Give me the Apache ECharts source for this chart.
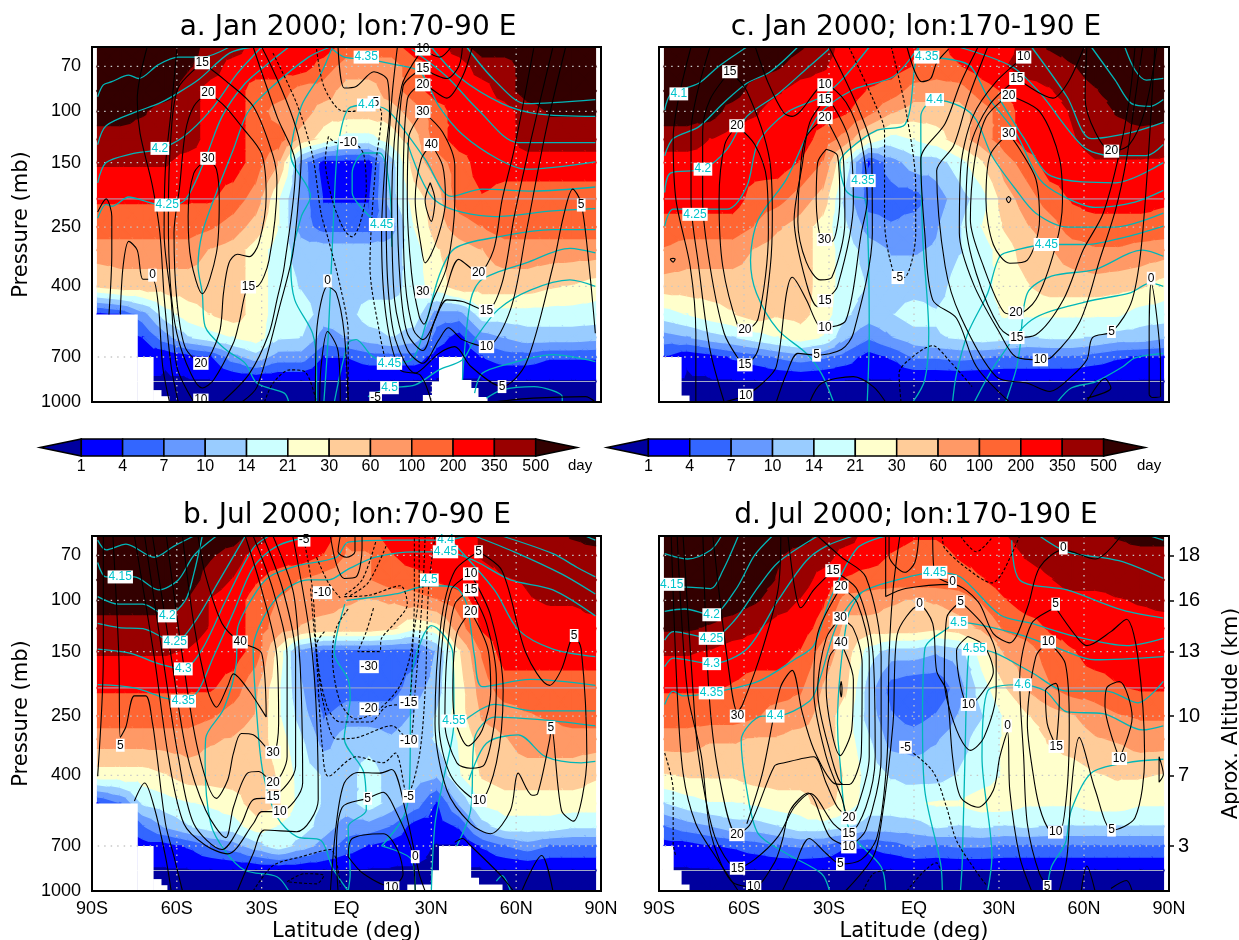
<!DOCTYPE html>
<html><head><meta charset="utf-8"><title>Residence time</title>
<style>html,body{margin:0;padding:0;background:#fff}#c{width:1239px;height:940px}</style>
<script src="https://cdn.jsdelivr.net/npm/echarts@6/dist/echarts.min.js"></script></head><body><div id="c"></div>
<script>
const lats=[-88,-80,-72,-64,-56,-48,-40,-32,-24,-16,-8,0,8,16,24,32,40,48,56,64,72,80,88];
const pressures=[60,70,85,100,125,150,200,250,300,400,500,600,700,850,1000];
const pressureTicks=[70,100,150,250,400,700,1000];
const altitudeTicks={70:18,100:16,150:13,250:10,400:7,700:3};
const latLabels={'-90':'90S','-60':'60S','-30':'30S','0':'EQ','30':'30N','60':'60N','90':'90N'};
const colorLevels=[1,4,7,10,14,21,30,60,100,200,350,500];
const bandColors=['#00009f','#0000ff','#3366ff','#6699ff','#99ccff','#ccffff','#ffffcc','#ffcc99','#ff9966','#ff6633','#ff0000','#990000','#330000'];
// residence-time class (index into bandColors), one row per pressure level, one value per latitude
const fillA=[
[12,12,12,12,12,11,11,10,10,10,10,9,9,9,10,10,11,12,12,12,12,12,12],
[12,12,12,12,11.6,11,10,10,10,10,9,8,8,8,9,10,10,11,11,12,12,12,12],
[12,12,12,12,11,10,10,9,9,8,8,7,7,8,9,10,10,10,11,12,12,12,12],
[12,12,11.6,11,11,10,10,9,8,8,7,7,7,7,8,9,10,10,10,11,11.6,11.6,11.6],
[11,11,11,11,11,10,10,9,9,7,6,5,5,6,7,9,10,10,10,11,11,11,11],
[10.6,10.6,10.6,10.6,10,10,10,9,7.5,3,1,1,1,4,7,8,9,10,10,10,10,10,10],
[9.6,9.6,9.6,9.6,9.6,9.6,9,8,5.5,3,1.4,1.4,1.4,4,6,7,9,9.4,9,9,9,9,9],
[9,9,9,9,9,8.6,8,7,5.5,3,2,2,2,3,5.5,7,8,8.5,9,9,9,9,9],
[8,8,8,8,8,7.4,7,6,5,4,4,4,4,4,5,6.4,7,7.5,8,8,8,8,8],
[6.6,7,7,7,7,7,7,6,5,4.4,4,4,4,4,5,6,7,7,7,7,6.6,6.4,6],
[1,1.5,3,5,6,6.5,7,6,5,5,4,4,5,5,5,3,3,5,5,5,5,5,5],
[1,1,1.5,3,4.4,5,5.5,6,4.6,4.5,3,3.5,4,4.5,4,2,1,3,3.5,4,4,4,3.8],
[0,0,1,0.6,1,1.5,3,4,3,3,1.5,1.5,2,2,2,1,0.6,1.5,2,2,1.6,1.6,1.6],
[.4,.4,.4,.4,.4,.4,.4,.4,.4,.4,.4,.4,.4,.4,.4,.4,.4,.4,.4,.4,.4,.4,.4],
[0,0,0,0,0,0,0,0,0,0,0,0,0,0,0,0,0,0,0,0,0,0,0]];
const fillB=[
[12,12,12,12,12,12,12,11,10,10,10,8.6,9,10,10,10,10,10.6,11,11,11,11.6,12],
[12,12,12,12,12,11.6,11,10,10,10,9.4,8.4,8.4,9.4,10,10,10,10.6,11,11,11,11,11],
[12,12,12,12,12,11,10.4,9.6,9,8.4,8,8,8.4,9,9,9.6,10,10,10.4,10.6,11,11,11],
[12,12,12,12,11.4,10.4,10,9,8.4,8,8,7.6,7.4,7.6,8,8.4,9,10,10,10.4,10.6,10.6,11],
[11,11,11,11,11,10.4,10,9,8,7.4,7,7,7,6.6,5.6,6,8,9.6,10,10,10,10,10],
[10.6,10.6,10.6,10.6,10.4,10,10,9,6,3,2,2,2,2,2,3.6,6.4,8.6,10,10,10,10,10],
[9.6,9.6,9.6,9.6,9.6,9.6,9,7.6,5.6,3.6,1.6,2,2,2,3,4,6,8,9,9,9,9,9],
[9,9,9,9,9,8.6,8,7.4,5.6,4,2.4,3,3,3,3.6,4.6,6,7.6,8,8.4,8.6,9,9],
[8,8,8,8,8,7.6,7.4,7,6,4.6,3,4,4,3.6,4,4.6,5.6,7,7.4,8,8,8,8],
[6,6,6,6.4,7,7,7,7,6.4,5,4.4,4,5,4,4,3.6,5.4,6.6,7,7,7,7,6.6],
[1.4,2.4,4.6,5,5.4,5.6,6,7,6.6,5,4.4,4,5,4,3,1.4,3.6,5.6,6,6,6,6,6],
[1,1,2.4,3.6,4.4,5,5,6,5.4,5,4,3,3,2.4,1,1,1.6,4,5,5,5,4.6,4.6],
[.6,.6,1,1,1.6,2.4,3,4,5,4,3,2,1.4,1,.8,.4,.4,1.6,2.4,3,2.4,2.4,2.4],
[.4,.4,.4,.4,.4,.4,.4,.4,.4,.4,.4,.4,.4,.4,.4,.4,.4,.4,.4,.4,.4,.4,.4],
[0,0,0,0,0,0,0,0,0,0,0,0,0,0,0,0,0,0,0,0,0,0,0]];
const fillC=[
[12,12,12,12,12,12,11.6,11,10,10,10,9.6,9,10,10,10,11,11.6,12,12,12,12,12],
[12,12,12,12,12,11.6,11,10.6,10,10,10,9.4,9,9.4,10,10.4,11,11,11.4,12,12,12,12],
[12,12,12,12,11,10.6,10,10,10,9.4,9,8,8,8,9,9.6,10,10.4,11,11.4,12,12,12],
[12,12,12,11,10.6,10,10,10,9.6,8.8,7.6,7,7,7,8,9,10,10,10.6,11,11.6,12,12],
[11,11,10.5,10,10,10,10,9,8,6,5,5.5,6,7,8,9,10,10,10.4,11,11,11,10.8],
[10,10,10,10,10,10,9.4,8.4,5,1.4,3,4,4,5,6.4,8,9,10,10,10.4,10.4,10.4,10.4],
[10,10,10,10,9,8.8,8,7,4,2,2,2,3,4,5,7,8,9,9.6,10,10,10,9.7],
[9,9,9,9,8.4,7.6,7,6,4.6,3,2.6,3,3.4,4.4,5.5,6.6,7.4,8,9,9,9,9,9],
[8.4,8,8,8,7.4,7,7,6,5,4,3.4,3.4,3.6,4.4,5,6,7,7.4,8,8.4,8.4,8.2,8],
[7,7,7,7,7,7,7,6,5,4.4,4,4,4,5,5,6,6.4,7,7,7,6.8,6.6,6],
[5,5.5,6,6.4,7,6.6,6.8,6,4.6,4,4.4,5,4.6,5,5,5.6,5.6,5.6,5.6,5.6,5.6,5,5],
[3,3.4,4,4.4,5,5.5,6,5.4,3.6,2.6,3.4,4,4.4,4.6,5,4.8,4.4,4.6,4.6,4.4,4,4,3.6],
[1.4,.6,1,1.6,2,2.6,3,2.6,2,1,1.6,2.6,2.6,2.8,2.6,2.4,2.4,2.4,2.4,2,1.6,1.4,1.4],
[.4,.4,.4,.4,.4,.4,.4,.4,.4,.4,.4,.4,.4,.4,.4,.4,.4,.4,.4,.4,.4,.4,.4],
[0,0,0,0,0,0,0,0,0,0,0,0,0,0,0,0,0,0,0,0,0,0,0]];
const fillD=[
[12,12,12,12,12,12,12,11,11,10,10,9.6,9.6,10,10,10.4,11,11,11,11,11.6,12,12],
[12,12,12,12,12,11.6,11,11,10,10,9.4,9,9,9.6,10,10,10.6,11,11,11,11,11,11],
[12,12,12,12,12,11.4,11,10,9.4,9,9,9,9,9,9.4,10,10,10.4,11,11,11,11,11],
[12,12,12,12,11.6,11,10.4,9.6,8,8,7.6,7.4,7.6,8,8.6,9.4,10,10,10,10,10.4,10.6,10.8],
[11.6,11.6,11.4,11,10.6,10,10,9,7,7,7,7,6.6,7,7.6,8.6,9,9.6,10,10,10,10,10],
[10.6,10.6,10.4,10,10,10,9.4,8,7,5,4,4,3.6,4,6,7.6,8,9,9.4,10,10,10,10],
[9.6,9.6,9.6,9.4,9,9,8.6,7.4,6.6,4,2,1.6,1.6,3,5,6.4,7.6,8.4,9,9,9.4,9.6,9.6],
[9,9,9,9,8.6,8,8,7,6,4,2.6,2,2.6,3.6,4.4,5.6,6.4,7,7.4,8,8.4,8.6,8.6],
[8,8,7.6,7.6,7.4,7.4,7,7,6,4.6,3,3,3.4,4,5,5.6,6,6.6,7,7.4,7.6,8,8],
[6.4,6.6,6.6,6.6,7,7,7,7,6.4,5,4.4,4,4,4.6,5,5.6,6,6,6,6.4,6.6,6.6,6.4],
[4.4,5,5.4,5.4,5.6,6,6,7,6,5,5,5.4,5.6,5.6,6,6,5.6,5.6,5.6,6,6,5.6,5.6],
[2.4,3,3.4,4,4,4.4,5,5,4.6,4,4,4,4.6,4.4,4.6,4.4,4.6,4.4,4.4,4.4,4.4,4.4,4.4],
[1,1,1.4,1.6,2,2.4,2.6,2.4,1.6,1.6,2,2.6,2.4,2.6,2.6,2.4,2.4,2.4,2.4,2.4,2.4,2.4,2.4],
[.4,.4,.4,.4,.4,.4,.4,.4,.4,.4,.4,.4,.4,.4,.4,.4,.4,.4,.4,.4,.4,.4,.4],
[0,0,0,0,0,0,0,0,0,0,0,0,0,0,0,0,0,0,0,0,0,0,0]];
// missing-data terrain: [lat from, lat to, surface pressure]
const topoA=[[-88.2,-74,500],[-74,-68.4,700],[-68.4,-65.6,910],[-65.6,-62.8,955],[27,30.2,946],[30.2,32.7,853],[32.7,40.8,700],[40.8,44,840],[44,46.5,895],[46.5,49.7,961]];
const topoB=[[-88.2,-74,500],[-74,-68.4,700],[-68.4,-65.6,910],[-65.6,-63.5,955],[21.5,30,950],[30,32.7,850],[32.7,43.9,700],[43.9,46.7,900],[46.7,55,950]];
const topoC=[[-88,-82.2,700],[-82.2,-79.4,950]];
const topoD=[[-88,-85,700],[-85,-82.2,850],[-82.2,-79.4,950]];
// black wind contours: [level, lat,p, lat,p, ...]; negative levels are dashed
const blackA=[
[0,-88,222,-85,200,-83,230,-83,307,-84,500],
[0,-80,500,-79,341,-77,280,-74,300,-72,378,-68.6,378,-66.5,469,-65,755,-62.6,1000],
[5,-70.5,60,-74,91,-73,119,-68.6,181,-66,262,-64.4,445,-62,755,-59.5,1000],
[10,-60,61,-62,99,-64,154,-64.5,262,-62,445,-60,755,-54,1000],
[10,-33,60,-24.6,104,-18,154,-22,341,-24.6,445,-27.4,580,-34.4,800,-44,1000],
[15,-51,68,-59.5,83,-62,118,-63,230,-62.3,390,-60,580,-55,800,-51,895,-47,840,-40,627,-38,535,-34.7,402,-31.6,400,-27.4,325,-24.6,175,-26,142,-33,96,-43,78,-51,68],
[20,-49,86,-54,96,-57,118,-59,181,-61,262,-60,445,-57,650,-51,736,-45,580,-43.5,422,-41.6,333,-38.6,310,-34.4,316,-31,284,-28.4,196,-30,140,-37,113,-43,96,-49,86],
[30,-49,145,-54,163,-56,230,-55,325,-51,424,-46,307,-45,202,-46,158,-49,145],
[5,-30,60,-16,142,-17,202,-19,309,-23,445,-31.6,885,-37,1000],
[-5,-26,63,-17.6,94,-12,142,-9,224,-6.4,276,-2.2,400,.6,580,.6,1000],
[-5,-10.6,61,-8,82,-2.2,99,2,100,9.7,94,12.4,101,10.3,154,8.3,341,11.7,580,14,736],
[-10,-6.4,122,-7.5,147,-5,202,-.8,256,2,270,4.8,242,7,185,6.2,142,4,131,.6,128,-3.6,128,-6.4,122],
[-5,-29,1000,-26,862,-20,775,-14.8,785,-10.6,1000],
[0,-11,1000,-10.6,580,-6.7,400,-3.6,422,-.8,580,.6,1000],
[5,-9.5,1000,-9,755,-6.7,572,-3,667,-2.2,1000],
[0,-3,60,-.8,83,3.4,82,9.7,73,14.5,78,15.2,101,14,135,12.4,262,14,507,19,775,26,807,30,1000],
[5,18,60,16,91,14,202,14.6,390,17.3,610,24.3,795,32.7,680,38.3,645,44,755,55,885,63.5,736,73,341,76.7,230,80,185,83,207,85.8,341,88,580],
[10,27,61,19.5,82,16,202,17,445,21.5,660,27,736,32.7,610,36,555,41,610,49.5,645,58,480,63.5,262,70.4,118,77.5,60],
[10,27,61,33,65,37,60],
[15,27,71,20,82,18,202,19,390,21.5,580,27,665,31.3,522,35.5,445,41,451,49.5,485,55,390,59.3,230,65,128,73,60],
[15,27,71,35.5,77,39.7,70,41,60],
[20,44.5,60,41,76,35.5,90,27,81,21.5,91,20,202,20.8,390,23.7,565,27,610,34,445,39.7,323,44.6,350,46.7,360,52,300,55,202,59.3,135,66.3,60],
[30,27,100,22,123,21.5,202,23,360,25.7,507,27.4,540,30.6,445,35.5,341,38.3,202,38.3,154,34,118,27,100],
[40,30,130,26.4,146,24.3,202,26.4,292,27.8,332,32,276,35,202,34,154,30,130],
[50,29.6,176,27.8,202,30,239,31.3,202,29.6,176],
[0,52,1000,66,970,84.5,958,88,1000]];
const blackB=[
[0,-86,60,-86,156,-88,403],
[5,-82.6,60,-80.5,156,-80,296,-78,272,-75,213,-71,213,-68.6,265,-67,345,-64,587,-61,762,-58,1000],
[0,-75,490,-71.4,425,-68,515,-64,762,-62,1000],
[10,-75,60,-68,156,-63,345,-57.5,587,-49.8,697,-42,745,-33,587,-30,533,-23.5,533,-15.5,425,-16,205,-17,137,-19,92,-26,60],
[15,-71.4,60,-65,156,-59.5,345,-54,587,-44,720,-37.2,587,-33,485,-26,475,-18,372,-18,156,-22.5,92,-29.5,60],
[20,-68.6,60,-62,156,-56.7,328,-49.8,527,-42.7,655,-40,515,-35,393,-31,388,-26,425,-21,345,-21,156,-26,92,-33,60],
[30,-63.7,60,-58,156,-52.5,328,-46,480,-42,415,-40,336,-37.2,287,-33,290,-26,336,-24,265,-24.6,156,-30,92,-35.8,60],
[40,-58,60,-54,120,-49,205,-46,233,-42,197,-40,179,-34.4,205,-28.4,252,-30,152,-37.6,139,-44,120,-50,81,-52.5,60],
[5,-38.6,1000,-33,743,-29,617,-17.6,625,-10,485,-12,156,-19,60],
[-5,-15,62,-12,92,-10.6,156,-8.5,325,-6.4,403,3.4,345,13,362,17.3,335,21.5,468,25.7,345,27.8,205,29,92,31.3,60],
[-10,-12.7,91,-10.6,154,-8,230,-3.6,300,4,296,16,270,22,305,24.3,202,27,91,27.8,60],
[-15,-7.8,128,-10.6,142,-7,230,-2.2,262,8.3,262,14,232,22,222,23.6,135,25.7,91,25.7,60],
[-20,.6,107,-3.6,124,-5,154,-2.2,224,3.4,256,10.3,242,18.7,198,23,146,24,91,24,60],
[-30,-.8,97,8,96,19,89,21.5,103,17.3,119,12.4,135,11.7,150,4,150,7,128,9.7,105],
[-5,-10.6,71,-6.4,87,-2.2,98],[-5,14,65,7.6,87,.6,97],[-5,10.3,63,5.5,85,-.8,96],
[5,-2.2,60,-3,68,0,71,3,68,3,60],
[0,-5.7,60,-3.6,75,-.8,84,3.4,83,5.5,66,5.5,60],
[5,46.7,68,38.3,79,33.4,120,31.3,265,35.5,450,43.9,587,51,635,58,527,60.7,393,65.6,468,67.6,462,71.8,303,72.5,274,76,527,80.2,575,85,345,83,147,80.5,132,76,173,71.8,196,63.5,152,55,79,46.7,68],
[10,43.9,81,37,92,33.4,156,32.7,265,37,403,47,490,53,362,55.4,205,51,113,43.9,81],
[15,43.9,92,38.3,103,35.5,156,34.8,265,39,362,43.9,378,48.8,367,52.3,265,53,187,49.5,120,43.9,92],
[20,43.9,109,39,130,37.6,205,38.3,256,43,317,48,279,51,205,50,147,43.9,109],
[0,-5.7,1000,-3.6,587,-.8,425,4,391,11.7,393,16,382,20.8,527,25.7,872,27.8,1000],
[5,-3,1000,-3.6,743,-1.5,515,7.5,480,13,457,17.3,527,23,720,24.3,1000],
[10,.6,762,2,660,13,635,18,720,20,872,16,965,6,872,.6,762],
[-5,-33,1000,-26,818,-16,762,-5.7,720,-2.2,965],
[-5,-21,930,-14.8,872,-8,885,-10.6,945,-21,930],
[0,62,1000,69,755,73,1000],
[0,38.3,680,41,660,44,700,54,872,59,1000]];
const blackC=[
[5,-78.7,60,-85,124,-84,202,-79,341,-77,580,-77,1000],
[10,-72,60,-78.7,118,-78.7,202,-76,341,-72,660,-67,1000],
[10,-67,1000,-59.4,948,-53.5,862,-48.6,755,-45,422,-43,372,-38,445,-34,540,-31.4,553,-24,522,-18.6,262,-16.5,202,-18.6,127,-24,93,-31.4,81,-43,104,-46,101,-51.4,80,-56,60],
[15,-65,73,-72,91,-74.6,118,-74.6,202,-72,341,-67,580,-62,710,-59.7,745,-55,660,-50.7,341,-50,230,-51,146,-59,85,-65,73],
[15,-31.4,91,-36.8,109,-39.5,154,-42.3,236,-38,390,-34,470,-31.4,448,-27,400,-21.4,205,-22.8,126,-28.4,96,-31.4,91],
[20,-62.5,112,-66.8,130,-68.8,202,-67.5,341,-62,555,-59.7,566,-55,515,-51.4,262,-52,171,-56.2,130,-62.5,112],
[20,-31.4,105,-38,122,-40,154,-41,239,-38,330,-33,380,-29,372,-24.4,239,-25,143,-29.8,111,-31.4,105],
[30,-31,135,-34,150,-34.5,202,-32.6,276,-29,280,-26.2,202,-27,142,-31,135],
[-5,-23,60,-14,93,-10.4,118,-10.4,236,-7,364,-3.5,373,.6,265,.6,181,-2.8,100,-8,60],
[5,-30,60,-20,96,-15,135,-14.7,262,-21.4,580,-25.6,660,-34.4,690,-41,680,-45,800,-48.6,1000],
[0,-36.8,1000,-32.6,862,-21.4,818,-14.4,885,-10,1000],
[-5,-4.6,1000,-5.3,797,-1.8,716,6.6,640,12.2,716,20.5,885],
[0,-2.5,60,.3,73,2.7,79,5.9,77,8,68,12.2,61],
[0,22.6,60,16.4,80,11,110,2.4,146,3.8,262,6.6,445,15,515,22,755,33.7,1000],
[5,26,60,19,91,14,131,8,160,11,341,16.4,507,29,818,40,862,48,920,55.5,818,61,716,63,600,70,572,77,445,80.7,262,85,60],
[10,38.7,65,29,79,20.8,104,16.5,156,16,262,21,393,30.3,580,36,700,44.6,716,48.6,700,58.6,527,65.7,320,71.2,217,75,146,78,91,80.7,60],
[15,36.5,77,26.6,95,19.7,134,18.3,236,22,362,30.3,555,36.3,600,43,587,52.7,445,59.7,300,66.7,225,72,146,76,91,78,60],
[15,36.5,77,49,90,54.5,79,60,60],
[20,33.4,88,25.4,105,21.3,150,19.9,236,24.7,345,31.7,490,36,500,43,445,50,290,52.4,205,51.4,146,44.3,100,33.4,88],
[30,33.4,119,26.8,142,25.4,202,28,287,33.8,333,40,325,44.3,236,43,171,37.3,135,33.4,119],
[20,61,60,60.4,90,64,118,69.7,137,76,130,81.4,100,85.7,60],
[0,33.4,196,34.2,200,33.4,206,32.6,200,33.4,196],
[0,83,945,83,580,83.7,390,87,755,87,958,84,965,83,945],
[5,61,1000,67.4,830,69.5,895,61,970],
[0,-85,320,-86,322,-85,330,-84.3,322,-85,320]];
const blackD=[
[-5,-88,335,-85,450,-85,685,-84,762],
[5,-85.7,60,-83.6,205,-81.5,393,-77,587,-70,762,-62,1000],
[15,-28.6,79,-35.4,92,-40,106,-42,92,-44.5,60],
[15,-28.6,79,-20,92,-14.4,156,-13.7,345,-17,515,-23,635,-28.4,587,-36.7,462,-42.3,515,-48,650,-56.3,780,-62.3,835,-70.3,650,-76,345,-78,205,-81.5,60],
[20,-25.8,90,-34,130,-35.4,205,-31,345,-25.6,475,-23,560,-20,515,-15.8,345,-15.8,156,-20,102,-25.8,90],
[20,-74.5,60,-72.4,205,-69,393,-62.5,640,-57.7,587,-49.3,372,-45.8,362,-35.4,345,-31,425,-27,515,-23,560],
[30,-26,115,-31,135,-34,205,-29.8,328,-25,430,-22.8,430,-18.6,335,-18.3,165,-21.4,125,-26,115],
[30,-71,60,-66,156,-62.3,242,-60.5,228,-53.5,147,-48,92,-47,60],
[30,-59,587,-53.5,393,-47.2,200,-43,174,-39.5,242,-35.4,325,-28.4,425,-25,430],
[40,-25.8,140,-29.8,156,-31,200,-26,342,-22,279,-21.4,187,-25.8,140],
[10,-23,705,-17,617,-11.6,345,-11.6,156,-17,83,-25.6,71,-34,60],
[10,-23,705,-29.8,650,-37.4,460,-43.7,527,-46.5,670,-49.3,800,-56.6,970,-64.7,920,-71.7,635,-75,345,-80,205,-83.6,60],
[5,-46.5,1000,-42.3,825,-37,660,-31,743,-26,807,-18.6,780,-13,650,-9.5,345,-8.8,156,-7.4,92,-5,60],
[5,-8.8,60,-8.8,70,-3.2,80,.3,74,1.7,60],
[0,-10,60,-10,97,-3,91,13.6,88,22.6,101,28,130,33.8,140,40,106,44.3,77,52.7,67,64,72,73,60],
[0,-24.2,1000,-14.4,762,-11.6,587,-7.4,265,-6,132,2,104,6.6,120,8,175,11.5,205,13.6,345,16.4,475,22.6,515,28,450,30.3,345,33,284,33.8,450,37.3,762,41.5,1000],
[5,16.4,101,11.5,115,10.7,187,15,279,20,328,24.7,296,29,205,29,156,25.4,125,16.4,101],
[10,19,133,15,149,16.4,196,19.2,228,22.6,217,28,176,24.7,143,19,133],
[0,6.6,60,7.3,81,13.6,88],
[-5,10,60,10.8,66,19,78,27.5,87,31,81,37.3,60],[-5,16.4,60,22,68,28,60],
[-5,-3,320,6.6,387,11.5,515,15,670,22,858,25.4,950],
[-5,-18,1000,-14.4,872,-10,850],[-5,-2.5,1000,8,800,9.4,850],
[10,47.4,139,43,156,40,265,42,393,44.3,515,47.8,617,51.3,627,54,450,54.8,265,53.4,165,47.4,139],
[15,50.2,318,47,265,46.4,205,50,193,51.3,217,50.2,318],
[5,50,106,41.5,120,37.3,187,38.7,345,40,587,44.3,872,48.5,1000],
[5,50,106,57,132,61,143,69.5,128,75,116,79,156,81.4,345,78,560,70,617,64,450,58.3,296,55.5,450,54,762,51.3,1000],
[10,72.5,350,67.4,230,68,200,72.5,190,77,253,72.5,350],
[5,59,1000,61,820,63.9,1000],[5,69.5,980,75,920,77,1000],[5,86.5,345,88,397,86.5,422,86.5,345],
[40,-25.7,190,-26.1,200,-25.7,215,-25.4,200,-25.7,190]];
// cyan contours: [lat,p, lat,p, ...]
const cyanA=[
[-88,89,-86,81,-83,79,-77,75,-73.5,77,-66.5,69,-59.5,65,-51,65,-41.4,60],
[-88,130,-85,112,-74,100,-66.5,94,-61,88,-52.5,78,-41.4,63,-33,60],
[-88,176,-85,150,-76,140,-66.5,135,-58,123,-48,99,-38.6,74,-30,60],
[-88,233,-85,209,-83,212,-77,197,-71,204,-64,212,-57,201,-50,146,-44,104,-35.8,80,-27.4,68,-20.4,60],
[-5,60,-9,74,-16,96,-19.7,142,-12.7,196,-16,230,-19.7,341,-18.3,445,-12,580,-10.6,755,-10.6,1000],
[-20.4,1000,-22,932,-31.6,862,-35.8,736,-42.7,660,-50,550,-51,422,-52.5,341,-51,262,-46,190,-40,135,-35,101,-27.4,84,-13.4,65,-5.7,60],
[-5,61,-.8,65,7,66,17.3,69,26,73,32.7,96,41,120,53.7,146,63.5,158,88,149],
[-8,1000,-6.4,580,-4.3,202,-3,132,.6,98,7.6,95,14.5,99,21.5,120,27.8,146,37,196,48,185,66,188,88,182],
[-4.3,1000,.6,627,3.4,610,9,695,15,736,23,716,27.8,550,32.7,369,38.3,296,53.7,270,73,255,88,255],
[11.7,248,4.8,212,2,190,2,163,6.2,139,11.7,139,15.2,181,16,292],
[21.5,128,31.3,202,52.3,230,73,220,88,216],
[42.5,60,52.3,78,63.5,94,88,91],[30,60,39.7,76,55,94,67.6,102,88,104],[23,61,35.5,76,46.7,99,60.7,128,88,128],
[41,840,43.9,445,48,378,63.5,332,79,296,88,307],
[7.6,958,15.2,895,24.3,873,32.7,775,41,716,45.3,610,53.7,480,65,412,79,380,88,400],
[45.3,932,48,797,58,736,73,687,88,726],
[49.5,970,55,908,66.3,885,76.3,958,76.3,1000]];
const cyanB=[
[-88,62,-85,67,-78,64,-68,71,-61,65,-54,60],
[-88,74,-85,83,-75,83,-66.5,92,-59.5,85,-54,70,-46,60],
[-88,97,-80.5,103,-72,103,-63.4,113,-57,100,-54,81,-51,60],
[-88,120,-80.5,124,-72,125,-60.6,139,-54,120,-45.5,87,-35.8,60],
[-88,147,-76.3,152,-66.5,165,-57.7,172,-51,147,-42.7,100,-33,66,-27.4,60],
[-88,195,-75,200,-64,217,-57.7,222,-52.5,205,-47,156,-40,110,-33,77,-24.6,65,-12,60],
[-20.4,1000,-24.6,893,-35.8,850,-42.7,733,-48,587,-50,362,-49.8,298,-43.4,236,-39,165,-38.6,126,-33,97,-27.4,83,-17.6,76,-3.6,71,.6,63,17.3,62,35,62,42.5,60],
[-31.6,256,-33,147,-29,113,-21.8,92,-13.4,85,-6.4,85,.6,78,10.3,71,24.3,68,35,68,45.3,73,58,85,73,92,88,113],
[-31.6,256,-29.5,393,-24.6,555,-17.6,650,-9,670,-5,830,.6,1000],
[-.6,103,-4.3,152,.6,187,1.3,217,-.8,298,6.2,393,7,527,.6,600,1.3,872,.6,1000],
[0,100,17.3,95,29,89,38.3,90,42.5,103,45.3,156,48,198,65,187,88,196],
[12.4,700,20,560,22.2,450,23,181,27,133,30,122,37.6,152,38,260,34,425,31.3,587,30,1000],
[12.4,700,23,780,24.3,1000],
[39,700,43.9,527,45.3,298,52.3,252,70.4,258,88,270],
[41,262,52.3,228,66.3,240,88,240],
[43.3,415,49.5,310,60.7,290,70.4,345,83,362,88,358],
[84.4,60,88,62],[55,60,73,69,81.6,77,88,83],[45.3,60,59.3,68,76,81,88,95],[35.5,60,52.3,92,60.7,126,73,147,88,156],
[53,925,55,885,58,1000]];
const cyanC=[
[-88,99,-85.7,87,-76,80,-69,70,-59,60],
[-88,142,-85,124,-76,113,-67.5,94,-59,80,-50.7,73,-41,60],
[-88,190,-86,163,-74.5,158,-66,135,-59,104,-48,87,-37,70,-30,61],
[-88,248,-85,217,-66,217,-59,181,-55,128,-45,101,-32.6,89,-25.6,78,-15.8,60],
[-28.4,1000,-32.6,800,-38,680,-48,565,-55.6,422,-57.7,325,-55,236,-45,171,-34,104,-21.4,84,-7.4,76,1.6,60],
[-16.5,1000,-15.8,580,-17,202,-21.4,196,-24.2,186,-26.2,150,-22.8,135,-13,116,-3.2,111,.3,70,1.7,60],
[4.5,65,19.2,69,26,89,36,119,44.3,171,52.7,196,64,214,78,205,88,187],
[-.4,1000,3.8,840,5.2,580,3,262,2.4,104,7.3,91,16.4,96,22,107,27.5,142,36,186,43,224,54.4,250,71,250,88,224],
[13.6,1000,15,800,19,580,26,422,30.3,315,36,300,46.7,287,61,287,75,270,88,248],
[32.4,1000,36,775,37.3,660,40,422,48.5,369,63.9,350,80.7,300,88,315],
[21.3,1000,29,736,41.5,522,61,451,76,422,83.4,390,88,400],
[50.6,1000,55.5,895,64,852,73.8,755,78,705,88,680],
[74.4,60,78,72,82,78,88,77],[62.6,60,71,78,76.8,94,83.4,96,88,91],[41.5,60,54,89,62.5,124,76.8,118,88,109],
[15.8,60,34.5,70,44.3,86,59.7,132,69.5,142,82,142,88,130],
[30.3,91,38.7,123,48.5,167,71,176,88,150]];
const cyanD=[
[-88,69,-80,72,-71.7,67,-68,60],
[-88,90,-80,90,-71.7,91,-67.5,79,-62,60],
[-88,109,-81,107,-71.4,112,-63,92,-56.3,70,-50,60],
[-88,137,-85,128,-71.5,135,-63.3,117,-55,90,-48,74,-34,60],
[-88,169,-85,158,-71.4,165,-59,147,-48,100,-38,73,-31,65,-21.4,60],
[-88,228,-85,205,-81.5,213,-71.5,208,-55,190,-42.3,160,-35.4,143,-29.8,100,-20,66,-10,60],
[-29.8,1000,-32.6,872,-45,743,-55,635,-59,450,-61,303,-53.5,250,-49,250,-36.8,222,-33.3,187,-27,120,-18.6,94,-6,85,7.3,80,16.4,83,30.3,112,41.5,120,57,133,75,143,88,135],
[-10,1000,-11.6,825,-22.8,617,-26.3,345,-27,265,-23.5,115,-18.6,94],
[10,1000,9.4,805,3.8,450,3,265,3.8,147,12.2,124,15.7,119,36,130,50,145,63.9,160,88,156],
[16.4,1000,17,805,18,345,19.2,156,21.3,147,29,152,41.5,177,54,205,68,205,79,225,88,190],
[26,1000,27.5,762,24,345,26,205,38.3,195,46.4,205,54,242,66.7,245,80.7,279,88,270],
[47,1000,48.5,825,53.4,685,55.5,527,62.5,393,75,362,88,352],
[44.3,60,54,68,72.3,73,88,84],[34.5,62,37.3,85,54,92,73.7,108,88,115],[83.4,60,88,62]];
// contour labels: [lat, p, text]
const labelsA=[[-51,68,'15'],[-49,86,'20'],[-49,145,'30'],[-68.6,366,'0'],[-34.7,402,'15'],[-6.7,383,'0'],[-51.5,736,'20'],[-51.5,985,'10'],[9.7,93,'-5'],[.6,128,'-10'],[27,61,'10'],[27,71,'15'],[27,81,'20'],[27,100,'30'],[30,130,'40'],[83,210,'5'],[46.7,360,'20'],[27,418,'30'],[49.5,485,'15'],[49.5,645,'10'],[55,885,'5'],[10.3,970,'-5']];
const cyanLabelsA=[[7,65,'4.35'],[7,95,'4.4'],[-66,134,'4.2'],[-63.4,210,'4.25'],[12.4,245,'4.45'],[15.2,736,'4.45'],[15.2,893,'4.5']];
const labelsB=[[-15,62,'-5'],[-8.5,94,'-10'],[-37.6,139,'40'],[8,169,'-30'],[8,236,'-20'],[22,224,'-15'],[22,305,'-10'],[22,472,'-5'],[-80,315,'5'],[-26,333,'30'],[-26,425,'20'],[-26,475,'15'],[-23.5,533,'10'],[7.5,480,'5'],[24.3,762,'0'],[16,975,'10'],[46.7,68,'5'],[43.9,81,'10'],[43.9,92,'15'],[43.9,109,'20'],[80.5,132,'5'],[72.3,274,'5'],[47,488,'10']];
const cyanLabelsB=[[35,62,'4.4'],[35,68,'4.45'],[29.3,85,'4.5'],[-80,83,'4.15'],[-63.4,113,'4.2'],[-60.6,139,'4.25'],[-57.7,172,'4.3'],[-57.7,222,'4.35'],[38,260,'4.55']];
const labelsC=[[-65,73,'15'],[-31.4,81,'10'],[-31.4,91,'15'],[-31.4,105,'20'],[-62.5,112,'20'],[-31.6,276,'30'],[-59.7,566,'20'],[-59.7,745,'15'],[-59.4,948,'10'],[-31.4,448,'15'],[-31.4,553,'10'],[-34.4,690,'5'],[-5.7,373,'-5'],[38.7,65,'10'],[36.3,77,'15'],[33.4,88,'20'],[33.4,119,'30'],[69.7,137,'20'],[36,493,'20'],[36.3,600,'15'],[44.6,716,'10'],[69.7,572,'5'],[83.7,375,'0']];
const cyanLabelsC=[[-83,87,'4.1'],[-74.5,158,'4.2'],[-77.3,226,'4.25'],[-18,173,'4.35'],[4.5,65,'4.35'],[7.3,91,'4.4'],[46.7,287,'4.45']];
const labelsD=[[-28.6,79,'15'],[-25.8,90,'20'],[-26,115,'30'],[-25.8,140,'40'],[2,103,'0'],[13.6,86,'0'],[16.4,101,'5'],[52.7,66,'0'],[50,103,'5'],[47.4,139,'10'],[-62.3,250,'30'],[19.2,228,'10'],[33,270,'0'],[-3,320,'-5'],[50.2,318,'15'],[72.5,350,'10'],[-62.5,640,'20'],[-62.3,835,'15'],[-56.6,965,'10'],[-23,560,'20'],[-23,635,'15'],[-23,705,'10'],[-26,807,'5'],[50,627,'10'],[69.7,617,'5'],[47,965,'5']];
const cyanLabelsD=[[-85.5,88,'4.15'],[-71.4,112,'4.2'],[-71.5,135,'4.25'],[-71.4,165,'4.3'],[-71.5,208,'4.35'],[-49,250,'4.4'],[7.3,80,'4.45'],[15.7,119,'4.5'],[21.3,147,'4.55'],[38.3,195,'4.6']];
const titles=['a. Jan 2000; lon:70-90 E','b. Jul 2000; lon:70-90 E','c. Jan 2000; lon:170-190 E','d. Jul 2000; lon:170-190 E'];

const FONT='"Liberation Sans",Arial,sans-serif';
const WIDE='"DejaVu Sans ExtraLight","DejaVu Sans",sans-serif';
const L=Math.log10, TOP=60, BOT=1000;
const panels=[
 {fill:fillA,topo:topoA,black:blackA,cyan:cyanA,lab:labelsA,clab:cyanLabelsA,left:92,top:47,w:509,h:355,t:titles[0],cx:343,ty:9,xl:false,yl:true},
 {fill:fillB,topo:topoB,black:blackB,cyan:cyanB,lab:labelsB,clab:cyanLabelsB,left:92,top:536,w:509,h:355,t:titles[1],cx:342,ty:497,xl:true,yl:true},
 {fill:fillC,topo:topoC,black:blackC,cyan:cyanC,lab:labelsC,clab:cyanLabelsC,left:659,top:47,w:510,h:355,t:titles[2],cx:911,ty:9,xl:false,yl:false},
 {fill:fillD,topo:topoD,black:blackD,cyan:cyanD,lab:labelsD,clab:cyanLabelsD,left:659,top:536,w:510,h:355,t:titles[3],cx:911,ty:497,xl:true,yl:false}];
const logP=pressures.map(L);
function clip(poly,lo,hi){
  const cut=(pts,test,lim)=>{const out=[];for(let k=0;k<pts.length;k++){const a=pts[k],b=pts[(k+1)%pts.length];const ia=test(a[2]),ib=test(b[2]);
    if(ia)out.push(a);
    if(ia!==ib){const t=(lim-a[2])/(b[2]-a[2]);out.push([a[0]+t*(b[0]-a[0]),a[1]+t*(b[1]-a[1]),lim]);}}return out;};
  let r=poly;
  if(lo>-Infinity&&r.length)r=cut(r,v=>v>=lo,lo);
  if(hi<Infinity&&r.length)r=cut(r,v=>v<=hi,hi);
  return r;
}
function fillSeries(p,g){
  const data=[];
  for(let j=0;j<pressures.length-1;j++)for(let i=0;i<lats.length-1;i++)data.push([lats[i],logP[j],i,j]);
  return {type:'custom',xAxisIndex:g,yAxisIndex:g,z:1,silent:true,animation:false,clip:true,data,
    encode:{x:0,y:1},
    renderItem(params,api){
      const i=api.value(2),j=api.value(3),x0=lats[i],x1=lats[i+1],y0=logP[j],y1=logP[j+1];
      const a=[x0,y0,p.fill[j][i]],b=[x1,y0,p.fill[j][i+1]],c=[x1,y1,p.fill[j+1][i+1]],d=[x0,y1,p.fill[j+1][i]];
      const m=[(x0+x1)/2,(y0+y1)/2,(a[2]+b[2]+c[2]+d[2])/4];
      const children=[];
      [[a,b,m],[b,c,m],[c,d,m],[d,a,m]].forEach(tri=>{
        const vs=tri.map(q=>q[2]),mn=Math.round(Math.min(...vs)),mx=Math.round(Math.max(...vs));
        for(let k=mn;k<=mx;k++){
          const poly=clip(tri,k===0?-Infinity:k-.5,k===12?Infinity:k+.5);
          if(poly.length<3)continue;
          const col=bandColors[k];
          children.push({type:'polygon',shape:{points:poly.map(q=>api.coord([q[0],q[1]]))},style:{fill:col,stroke:col,lineWidth:1.5}});
        }
      });
      return {type:'group',children};
    }};
}
function topoSeries(p,g){
  return {type:'custom',xAxisIndex:g,yAxisIndex:g,z:2,silent:true,animation:false,clip:false,data:p.topo.map(t=>[t[0],L(t[2]),t[1]]),encode:{x:0,y:1},
    renderItem(params,api){
      const a=api.coord([api.value(0),api.value(1)]),b=api.coord([api.value(2),L(BOT)]);
      return {type:'rect',shape:{x:a[0]-(api.value(0)<-80?2:0),y:a[1],width:b[0]-a[0]+(api.value(0)<-80?2:0)+.5,height:b[1]-a[1]+1},style:{fill:'#fff'}};
    }};
}
function line(data,g,opt){
  return Object.assign({type:'line',xAxisIndex:g,yAxisIndex:g,data,symbol:'none',silent:true,animation:false},opt);
}
function pairs(flat,start){const r=[];for(let k=start;k<flat.length;k+=2)r.push([flat[k],L(flat[k+1])]);return r;}
const series=[];
panels.forEach((p,g)=>{
  series.push(fillSeries(p,g),topoSeries(p,g));
  [200,850].forEach(v=>series.push(line([[-88,L(v)],[88,L(v)]],g,{z:1.5,lineStyle:{color:'#a6aec8',width:1}})));
  pressureTicks.slice(0,-1).forEach(v=>series.push(line([[-88,L(v)],[88,L(v)]],g,{z:3,lineStyle:{color:'#c8c8c8',width:1.3,type:[1.5,5]}})));
  [-60,-30,0,30,60].forEach(v=>series.push(line([[v,L(TOP)],[v,L(BOT)]],g,{z:3,lineStyle:{color:'#c8c8c8',width:1.3,type:[1.5,5]}})));
  p.cyan.forEach(c=>series.push(line(pairs(c,0),g,{z:4,smooth:.3,lineStyle:{color:'#00b6b8',width:1.3}})));
  p.black.forEach(c=>series.push(line(pairs(c,1),g,{z:5,smooth:.3,lineStyle:{color:'#000',width:1.1,type:c[0]<0?[3,2]:'solid'}})));
  const lbl=(arr,color)=>({type:'scatter',xAxisIndex:g,yAxisIndex:g,z:6,symbolSize:0,silent:true,animation:false,itemStyle:{opacity:1},data:arr.map(a=>[a[0],L(a[1]),a[2]]),
    label:{show:true,position:'inside',opacity:1,formatter:o=>o.data[2],color,backgroundColor:'#fff',padding:[1,1,0,1],fontSize:12,fontFamily:FONT}});
  series.push(lbl(p.lab,'#000'),lbl(p.clab,'#00c4cc'));
  series.push(line([[-90,L(TOP)],[90,L(TOP)],[90,L(BOT)],[-90,L(BOT)],[-90,L(TOP)]],g,{z:7,clip:false,lineStyle:{color:'#000',width:2,cap:'square',join:'miter'}}));
});
const grid=panels.map(p=>({left:p.left,top:p.top,width:p.w,height:p.h,containLabel:false,outerBoundsMode:'none'}));
grid.push({left:40,top:439,width:537,height:17,outerBoundsMode:'none'},{left:607,top:439,width:538,height:17,outerBoundsMode:'none'});
const yTickVals=pressureTicks.map(L);
const xAxis=panels.map((p,g)=>({type:'value',gridIndex:g,min:-90,max:90,interval:30,splitLine:{show:false},axisLine:{show:false},axisTick:{show:false},
  axisLabel:{show:p.xl,formatter:v=>latLabels[v],color:'#000',fontSize:18,fontFamily:FONT,margin:9,showMinLabel:true,showMaxLabel:true},
  name:p.xl?'Latitude (deg)':'',nameLocation:'middle',nameGap:30,nameTextStyle:{color:'#000',fontSize:21,fontFamily:WIDE}}));
const yAxis=panels.map((p,g)=>({type:'value',gridIndex:g,inverse:true,min:L(TOP),max:L(BOT),splitLine:{show:false},axisLine:{show:false},
  axisTick:{show:p.yl,length:6,customValues:yTickVals,lineStyle:{color:'#000',width:1.5}},
  axisLabel:{show:p.yl,customValues:yTickVals,formatter:v=>String(Math.round(Math.pow(10,v))),color:'#000',fontSize:18,fontFamily:FONT,margin:11},
  name:p.yl?'Pressure (mb)':'',nameLocation:'middle',nameGap:60,nameRotate:90,nameTextStyle:{color:'#000',fontSize:21,fontFamily:WIDE}}));
[4,5].forEach(g=>{
  xAxis.push({type:'value',gridIndex:g,min:-1,max:12,interval:1,splitLine:{show:false},axisLine:{show:false},axisTick:{show:false},
    axisLabel:{formatter:v=>(v>=0&&v<colorLevels.length)?String(colorLevels[v]):'',color:'#000',fontSize:16,fontFamily:FONT,margin:3,showMinLabel:false,showMaxLabel:false}});
  yAxis.push({type:'value',gridIndex:g,min:0,max:1,show:false});
  series.push({type:'custom',xAxisIndex:g,yAxisIndex:g,z:3,silent:true,animation:false,clip:false,data:bandColors.map((c,i)=>[i-1,0,i]),encode:{x:0,y:1},
    renderItem(params,api){
      const i=api.value(2),x=i-1,a=api.coord([x,1]),b=api.coord([x+1,0]);
      const st={fill:bandColors[i],stroke:'#000',lineWidth:1.5};
      if(i===0)return{type:'polygon',shape:{points:[[a[0],(a[1]+b[1])/2],[b[0],a[1]],[b[0],b[1]]]},style:st};
      if(i===12)return{type:'polygon',shape:{points:[[a[0],a[1]],[b[0],(a[1]+b[1])/2],[a[0],b[1]]]},style:st};
      return{type:'rect',shape:{x:a[0],y:a[1],width:b[0]-a[0],height:b[1]-a[1]},style:st};
    }});
});
// altitude axis on panel d
yAxis.push({type:'value',gridIndex:3,position:'right',inverse:true,min:L(TOP),max:L(BOT),splitLine:{show:false},axisLine:{show:false},
  axisTick:{show:true,length:5,customValues:yTickVals.slice(0,-1),lineStyle:{color:'#000',width:1.5}},
  axisLabel:{customValues:yTickVals.slice(0,-1),formatter:v=>String(altitudeTicks[Math.round(Math.pow(10,v))]),color:'#000',fontSize:20,fontFamily:FONT,margin:9},
  name:'Aprox. Altitude (km)',nameLocation:'middle',nameGap:52,nameRotate:90,nameTextStyle:{color:'#000',fontSize:21,fontFamily:WIDE}});
const title=panels.map(p=>({text:p.t,left:p.cx,top:p.ty,textAlign:'center',textStyle:{color:'#000',fontSize:28,fontWeight:'normal',fontFamily:WIDE}}));
title.push({text:'day',left:563,top:453,textStyle:{color:'#000',fontSize:15,fontWeight:'normal',fontFamily:FONT}},{text:'day',left:1132,top:453,textStyle:{color:'#000',fontSize:15,fontWeight:'normal',fontFamily:FONT}});
const chart=echarts.init(document.getElementById('c'),null,{renderer:'canvas'});
chart.setOption({animation:false,backgroundColor:'#fff',title,grid,xAxis,yAxis,series});
</script></body></html>
